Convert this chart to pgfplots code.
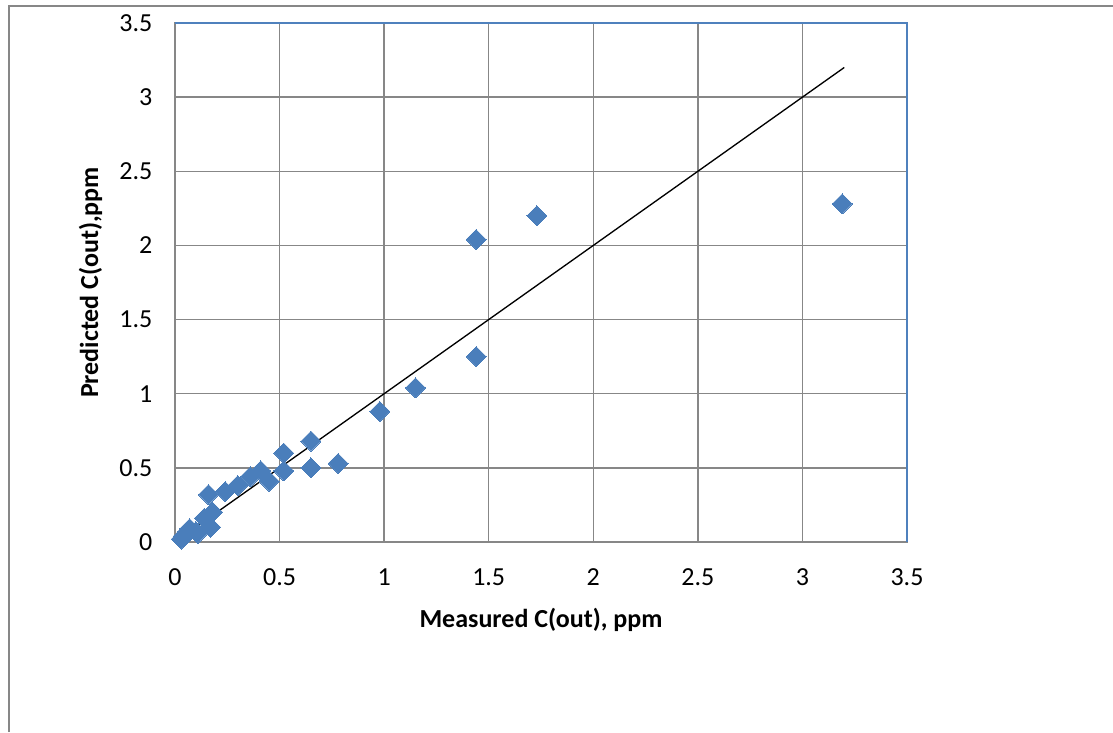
\documentclass[border=0pt]{standalone}
\usepackage{pgfplots}
\pgfplotsset{compat=1.18}
\usepackage{fontspec}
\setmainfont{Carlito}
\definecolor{ptblue}{HTML}{4A7EBB}
\definecolor{gridgray}{HTML}{878787}
\definecolor{frameblue}{HTML}{4F81BD}
\begin{document}
\begin{tikzpicture}[x=0.75pt,y=0.75pt]
\useasboundingbox (0,0) rectangle (1113,732);
\draw[gridgray, line width=1.5pt] (9,0) -- (9,726) -- (1113,726);
\begin{axis}[
  at={(175pt*0.75,190pt*0.75)}, anchor=south west,
  scale only axis, width=549pt, height=389.25pt,
  xmin=0, xmax=3.5, ymin=0, ymax=3.5,
  xtick={0,0.5,...,3.5}, ytick={0,0.5,...,3.5},
  grid=major, major grid style={gridgray, line width=1pt},
  major tick length=0pt,
  axis line style={gridgray, line width=1pt},
  /pgf/number format/assume math mode=true,
  tick label style={font=\fontsize{19.5}{22}\selectfont},
  xticklabel style={yshift=-16.5pt},
  yticklabel style={xshift=-13.5pt},
  xlabel={Measured C(out), ppm},
  ylabel={Predicted C(out),ppm},
  label style={font=\bfseries\fontsize{19.5}{22}\selectfont},
  xlabel style={yshift=-10pt},
  ylabel style={yshift=6pt},
  clip=false,
]
\addplot[only marks, mark=square*, mark size=5.3pt, mark options={rotate=45, fill=ptblue, draw=ptblue, line width=0pt}] coordinates {
(0.03,0.02)(0.04,0.04)(0.06,0.07)(0.07,0.09)(0.10,0.07)(0.11,0.06)(0.14,0.16)(0.17,0.10)(0.18,0.20)(0.16,0.32)(0.24,0.34)(0.30,0.38)(0.36,0.44)(0.41,0.48)(0.45,0.41)(0.52,0.60)(0.52,0.48)(0.65,0.68)(0.65,0.50)(0.78,0.53)(0.98,0.88)(1.15,1.04)(1.44,2.04)(1.44,1.25)(1.73,2.20)(3.19,2.28)
};
\addplot[black, line width=1pt] coordinates {(0.04,0.04)(3.2,3.2)};
\draw[frameblue, line width=1.2pt] (rel axis cs:0,1) -- (rel axis cs:1,1) -- (rel axis cs:1,0);
\end{axis}
\end{tikzpicture}
\end{document}
